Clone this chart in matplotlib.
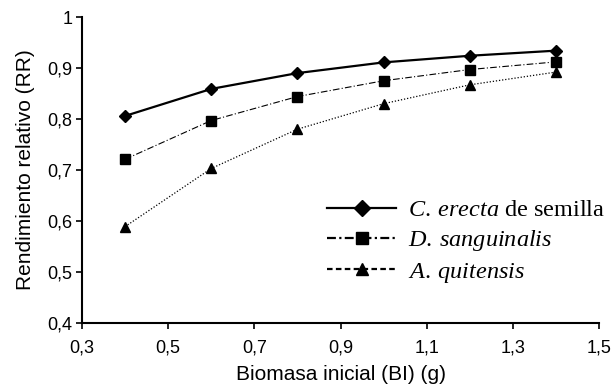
import matplotlib.pyplot as plt
from matplotlib.lines import Line2D

biomasa = [0.4, 0.6, 0.8, 1.0, 1.2, 1.4]
c_erecta = [0.806, 0.859, 0.890, 0.911, 0.924, 0.934]
d_sanguinalis = [0.721, 0.797, 0.844, 0.875, 0.897, 0.912]
a_quitensis = [0.589, 0.703, 0.780, 0.830, 0.867, 0.892]

x_ticks = [0.3, 0.5, 0.7, 0.9, 1.1, 1.3, 1.5]
y_ticks = [0.4, 0.5, 0.6, 0.7, 0.8, 0.9, 1.0]
y_labels = ["0,4", "0,5", "0,6", "0,7", "0,8", "0,9", "1"]

plt.rcParams['font.family'] = ['Liberation Sans', 'DejaVu Sans']
plt.rcParams['mathtext.fontset'] = 'custom'
plt.rcParams['mathtext.it'] = 'Liberation Serif:italic'
plt.rcParams['mathtext.rm'] = 'Liberation Serif'

fig = plt.figure(figsize=(6.16, 3.89), dpi=100)
ax = fig.add_axes([82 / 616, 1 - 323 / 389, (599 - 82) / 616, (323 - 17) / 389])

ax.plot(biomasa, c_erecta, color='black', lw=1.6, marker='D', ms=6.5)
ax.plot(biomasa, d_sanguinalis, color='black', lw=0.8, ls=(0, (6, 2, 1, 2)), marker='s', ms=7)
ax.plot(biomasa, a_quitensis, color='black', lw=0.9, ls=(0, (1, 1.5)), marker='^', ms=7)

ax.set_xlim(0.3, 1.5)
ax.set_ylim(0.4, 1.0)
ax.set_xticks(x_ticks)
ax.set_xticklabels([str(v).replace('.', ',') for v in x_ticks])
ax.set_yticks(y_ticks)
ax.set_yticklabels(y_labels)
ax.spines['top'].set_visible(False)
ax.spines['right'].set_visible(False)
ax.spines['left'].set_linewidth(1.5)
ax.spines['bottom'].set_linewidth(1.5)
ax.tick_params(direction='out', length=4, width=1.2, labelsize=13)
ax.tick_params(axis='x', pad=8)
ax.tick_params(axis='y', pad=3)

ax.set_xlabel("Biomasa inicial (BI) (g)", fontsize=15, labelpad=6)
ax.set_ylabel("Rendimiento relativo (RR)", fontsize=15, labelpad=9)

handles = [
    Line2D([], [], color='black', lw=1.6, marker='D', ms=8),
    Line2D([], [], color='black', lw=1.6, ls=(0, (4, 1.5, 1, 1.5)), marker='s', ms=8),
    Line2D([], [], color='black', lw=1.6, ls=(0, (2.5, 1.5)), marker='^', ms=8),
]
labels = [r"$\it{C.\:erecta}$ de semilla", r"$\it{D.\:sanguinalis}$", r"$\it{A.\:quitensis}$"]
leg = fig.legend(handles, labels, loc='upper left', bbox_to_anchor=(327 / 616, 1 - 199 / 389),
                 frameon=False, handlelength=2.85, handletextpad=0.5, labelspacing=0.3,
                 borderpad=0, borderaxespad=0,
                 prop={'family': 'Liberation Serif', 'size': 17.5})

fig.savefig("out.png", dpi=100)
